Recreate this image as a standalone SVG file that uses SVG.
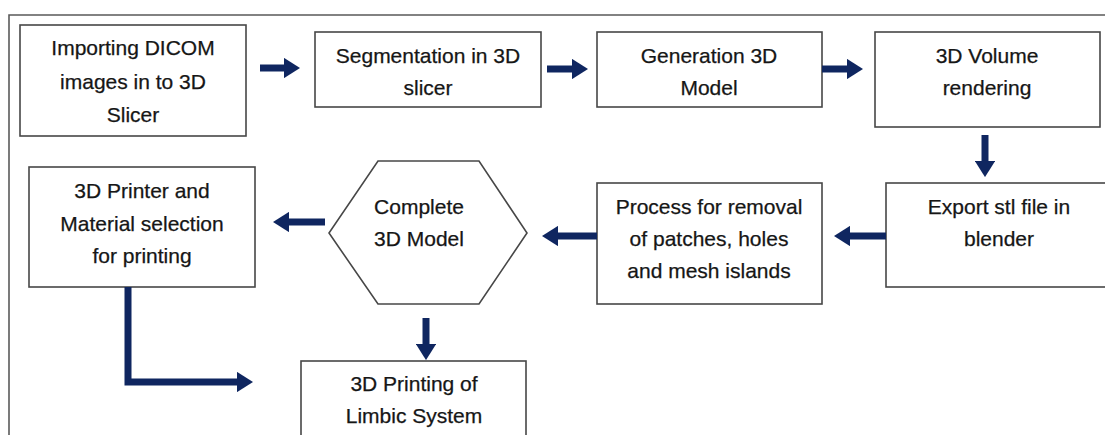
<svg xmlns="http://www.w3.org/2000/svg" width="1105" height="435" viewBox="0 0 1105 435">
  <style>
    .box { fill: #ffffff; stroke: #474747; stroke-width: 1.6; }
    .frame { fill: none; stroke: #5a5a5a; stroke-width: 1.6; }
    .lbl { font-family: "Liberation Sans", Arial, sans-serif; font-size: 21px; fill: #161616; stroke: #161616; stroke-width: 0.25; text-anchor: middle; }
    .conn { fill: none; stroke: #0f2660; stroke-width: 7; marker-end: url(#head); }
  </style>
  <defs>
    <marker id="head" viewBox="0 0 10 10" refX="0" refY="5" markerWidth="2.3" markerHeight="2.9" preserveAspectRatio="none" orient="auto" markerUnits="strokeWidth">
      <path d="M0,0 L10,5 L0,10 z" fill="#0f2660"/>
    </marker>
  </defs>
  <rect width="1105" height="435" fill="#ffffff"/>
  <path class="frame" d="M9,435 V15 H1105"/>

  <g id="n1">
    <rect class="box" x="20" y="25" width="226" height="111"/>
    <text class="lbl" x="133" y="55">Importing DICOM</text>
    <text class="lbl" x="133" y="89">images in to 3D</text>
    <text class="lbl" x="133" y="122">Slicer</text>
  </g>
  <g id="n2">
    <rect class="box" x="315" y="32" width="226" height="75"/>
    <text class="lbl" x="428" y="63">Segmentation in 3D</text>
    <text class="lbl" x="428" y="95">slicer</text>
  </g>
  <g id="n3">
    <rect class="box" x="597" y="32" width="225" height="75"/>
    <text class="lbl" x="709" y="63">Generation 3D</text>
    <text class="lbl" x="709" y="95">Model</text>
  </g>
  <g id="n4">
    <rect class="box" x="875" y="32" width="225" height="95"/>
    <text class="lbl" x="987" y="63">3D Volume</text>
    <text class="lbl" x="987" y="95">rendering</text>
  </g>
  <g id="n5">
    <rect class="box" x="886" y="183" width="226" height="104"/>
    <text class="lbl" x="999" y="214">Export stl file in</text>
    <text class="lbl" x="999" y="246">blender</text>
  </g>
  <g id="n6">
    <rect class="box" x="597" y="183" width="225" height="121"/>
    <text class="lbl" x="709" y="214">Process for removal</text>
    <text class="lbl" x="709" y="246">of patches, holes</text>
    <text class="lbl" x="709" y="278">and mesh islands</text>
  </g>
  <g id="n7">
    <polygon class="box" points="378,161 479,161 527,233 479,304 378,304 329,233"/>
    <text class="lbl" x="419" y="214">Complete</text>
    <text class="lbl" x="419" y="246">3D Model</text>
  </g>
  <g id="n8">
    <rect class="box" x="29" y="167" width="226" height="120"/>
    <text class="lbl" x="142" y="198">3D Printer and</text>
    <text class="lbl" x="142" y="231">Material selection</text>
    <text class="lbl" x="142" y="263">for printing</text>
  </g>
  <g id="n9">
    <rect class="box" x="301" y="361" width="225" height="90"/>
    <text class="lbl" x="414" y="391">3D Printing of</text>
    <text class="lbl" x="414" y="423">Limbic System</text>
  </g>

  <g id="connectors">
    <line class="conn" x1="260" y1="68" x2="284" y2="68"/>
    <line class="conn" x1="547" y1="69" x2="572" y2="69"/>
    <line class="conn" x1="822" y1="69" x2="847" y2="69"/>
    <line class="conn" x1="985" y1="135" x2="985" y2="161"/>
    <line class="conn" x1="886" y1="236" x2="850" y2="236"/>
    <line class="conn" x1="597" y1="236" x2="558" y2="236"/>
    <line class="conn" x1="325" y1="222" x2="289" y2="222"/>
    <line class="conn" x1="426" y1="318" x2="426" y2="344"/>
    <path class="conn" d="M128,287 V382 H237" stroke-linejoin="miter"/>
  </g>
</svg>
